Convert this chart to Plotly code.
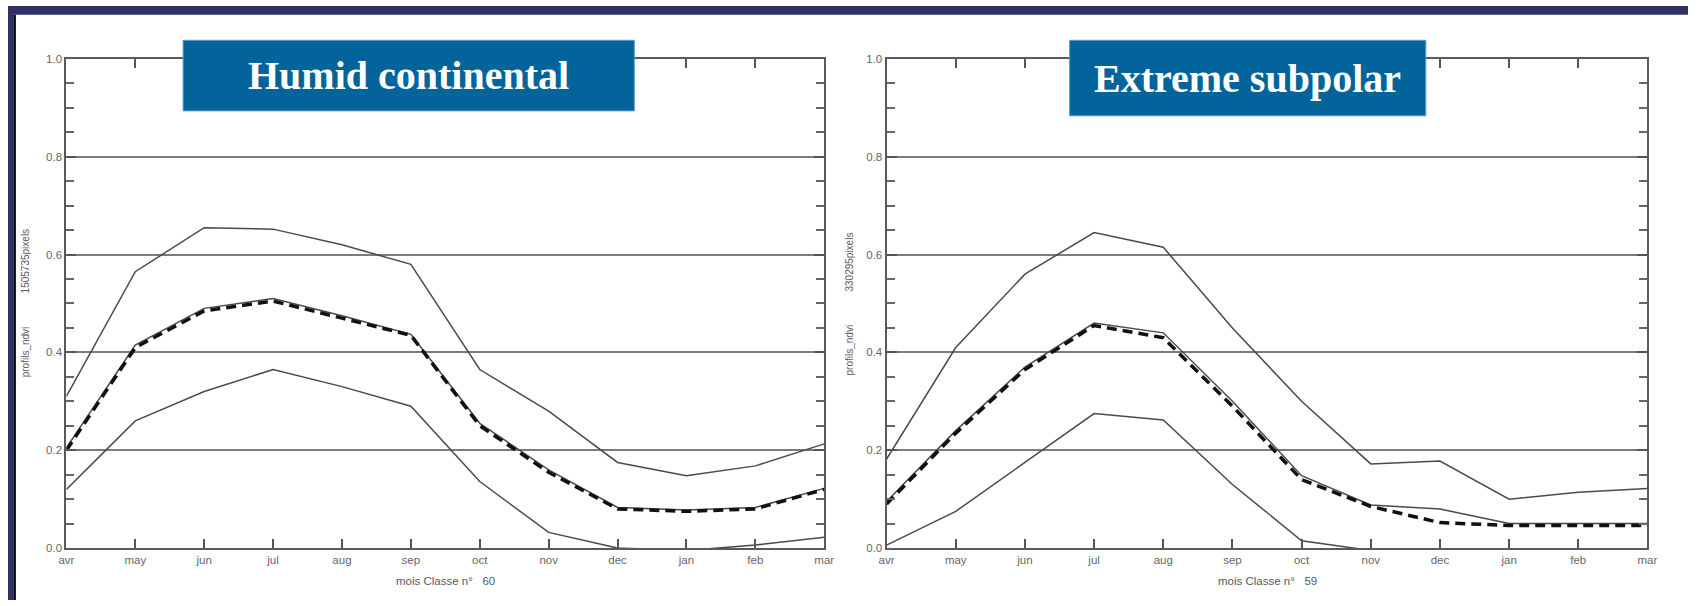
import plotly.graph_objects as go

# Month labels along the x axis (April to March)
months = ["avr", "may", "jun", "jul", "aug", "sep", "oct", "nov", "dec", "jan", "feb", "mar"]

# Humid continental class (n = 60)
hc_upper = [0.31, 0.565, 0.655, 0.652, 0.62, 0.58, 0.365, 0.28, 0.175, 0.148, 0.168, 0.213]
hc_mean = [0.205, 0.415, 0.49, 0.51, 0.475, 0.437, 0.255, 0.16, 0.083, 0.078, 0.083, 0.122]
hc_median = [0.2, 0.41, 0.485, 0.505, 0.47, 0.435, 0.25, 0.155, 0.08, 0.075, 0.08, 0.12]
hc_lower = [0.12, 0.26, 0.32, 0.365, 0.33, 0.29, 0.136, 0.032, 0.0, -0.005, 0.006, 0.022]

# Extreme subpolar class (n = 59)
es_upper = [0.182, 0.41, 0.56, 0.645, 0.615, 0.45, 0.3, 0.172, 0.178, 0.1, 0.114, 0.122]
es_mean = [0.095, 0.24, 0.37, 0.46, 0.44, 0.3, 0.148, 0.088, 0.08, 0.05, 0.05, 0.05]
es_median = [0.09, 0.235, 0.365, 0.455, 0.43, 0.29, 0.14, 0.085, 0.052, 0.046, 0.046, 0.046]
es_lower = [0.006, 0.075, 0.175, 0.275, 0.262, 0.13, 0.015, -0.005, -0.02, -0.03, -0.03, -0.03]

y_ticks = [0.0, 0.2, 0.4, 0.6, 0.8, 1.0]
panel_titles = ["Humid continental", "Extreme subpolar"]
x_titles = ["mois Classe n°   60", "mois Classe n°   59"]
y_titles = ["profils_ndvi            1505735pixels", "profils_ndvi            330295pixels"]

W, H = 1698, 606
NAVY = "#2f3064"
BOX_BLUE = "#02649a"


def px_x(p):
    return p / W


def px_y(p):
    return 1 - p / H


x_idx = list(range(len(months)))
fig = go.Figure()

panels = [
    ("x", "y", hc_upper, hc_mean, hc_median, hc_lower),
    ("x2", "y2", es_upper, es_mean, es_median, es_lower),
]
for xa, ya, up, mean, med, low in panels:
    thin = dict(color="#4a4a4a", width=1.5)
    for series in (up, low, mean):
        fig.add_trace(go.Scatter(x=x_idx, y=series, mode="lines", line=thin,
                                 xaxis=xa, yaxis=ya, showlegend=False, hoverinfo="skip"))
    fig.add_trace(go.Scatter(x=x_idx, y=med, mode="lines",
                             line=dict(color="#111111", width=3.5, dash="10px,6px"),
                             xaxis=xa, yaxis=ya, showlegend=False, hoverinfo="skip"))

# Plot areas in pixels: (left, right) for each panel, shared top/bottom
plot_x = [(59, 825), (888, 1657)]
plot_top, plot_bottom = 54, 553

axis_common = dict(
    showline=True, linecolor="#5a5a5a", linewidth=2, mirror="allticks",
    ticks="inside", tickcolor="#555555", tickwidth=1.5,
    tickfont=dict(family="Liberation Sans, Arial", size=11.5, color="#666666"),
    zeroline=False,
)

layout_axes = {}
for i, (xl, xr) in enumerate(plot_x):
    sfx = "" if i == 0 else str(i + 1)
    layout_axes["xaxis" + sfx] = dict(
        axis_common, domain=[px_x(xl), px_x(xr)], range=[0, 11],
        tickvals=x_idx, ticktext=months, ticklen=9, showgrid=False,
        anchor="y" + sfx,
    )
    layout_axes["yaxis" + sfx] = dict(
        axis_common, domain=[px_y(plot_bottom), px_y(plot_top)], range=[0, 1],
        tickvals=y_ticks, ticktext=[f"{v:.1f}" for v in y_ticks], ticklen=10,
        showgrid=True, gridcolor="#7c7c7c", gridwidth=2,
        minor=dict(dtick=0.05, tick0=0, ticks="inside", ticklen=8,
                   tickcolor="#666666", tickwidth=1.5, showgrid=False),
        anchor="x" + sfx,
    )

shapes = [
    # slide frame: band on top, band on the left with a dark rule
    dict(type="rect", xref="paper", yref="paper", x0=0, x1=1, y0=px_y(9), y1=1,
         fillcolor=NAVY, line=dict(width=0), layer="above"),
    dict(type="rect", xref="paper", yref="paper", x0=0, x1=px_x(6), y0=0, y1=1,
         fillcolor=NAVY, line=dict(width=0), layer="above"),
    dict(type="rect", xref="paper", yref="paper", x0=px_x(6), x1=px_x(8), y0=0, y1=px_y(9),
         fillcolor="#0a0a14", line=dict(width=0), layer="above"),
]

# Title boxes (pixel coordinates)
boxes = [(177, 633, 35, 107), (1073, 1433, 35, 112)]
annotations = []
for (x0, x1, y0, y1), title in zip(boxes, panel_titles):
    shapes.append(dict(type="rect", xref="paper", yref="paper",
                       x0=px_x(x0), x1=px_x(x1), y0=px_y(y1), y1=px_y(y0),
                       fillcolor=BOX_BLUE, line=dict(color="#5d97c4", width=1),
                       layer="above"))
    annotations.append(dict(
        text=f"<b>{title}</b>", xref="paper", yref="paper",
        x=px_x((x0 + x1) / 2), y=px_y((y0 + y1) / 2), showarrow=False,
        xanchor="center", yanchor="middle",
        font=dict(family="Liberation Serif, Times New Roman", size=40, color="white"),
    ))

for (xl, xr), xt, yt, ytx in zip(plot_x, x_titles, y_titles, [18, 851]):
    annotations.append(dict(
        text=xt, xref="paper", yref="paper", x=px_x((xl + xr) / 2), y=px_y(587),
        showarrow=False, xanchor="center", yanchor="middle",
        font=dict(family="Liberation Sans, Arial", size=11.5, color="#5a5a5a"),
    ))
    annotations.append(dict(
        text=yt, xref="paper", yref="paper", x=px_x(ytx), y=px_y((plot_top + plot_bottom) / 2),
        showarrow=False, textangle=-90, xanchor="center", yanchor="middle",
        font=dict(family="Liberation Sans, Arial", size=10, color="#5a5a5a"),
    ))

fig.update_layout(
    width=W, height=H, margin=dict(l=0, r=0, t=0, b=0),
    paper_bgcolor="white", plot_bgcolor="white",
    shapes=shapes, annotations=annotations, showlegend=False,
    **layout_axes,
)

fig.write_html("out.html")
